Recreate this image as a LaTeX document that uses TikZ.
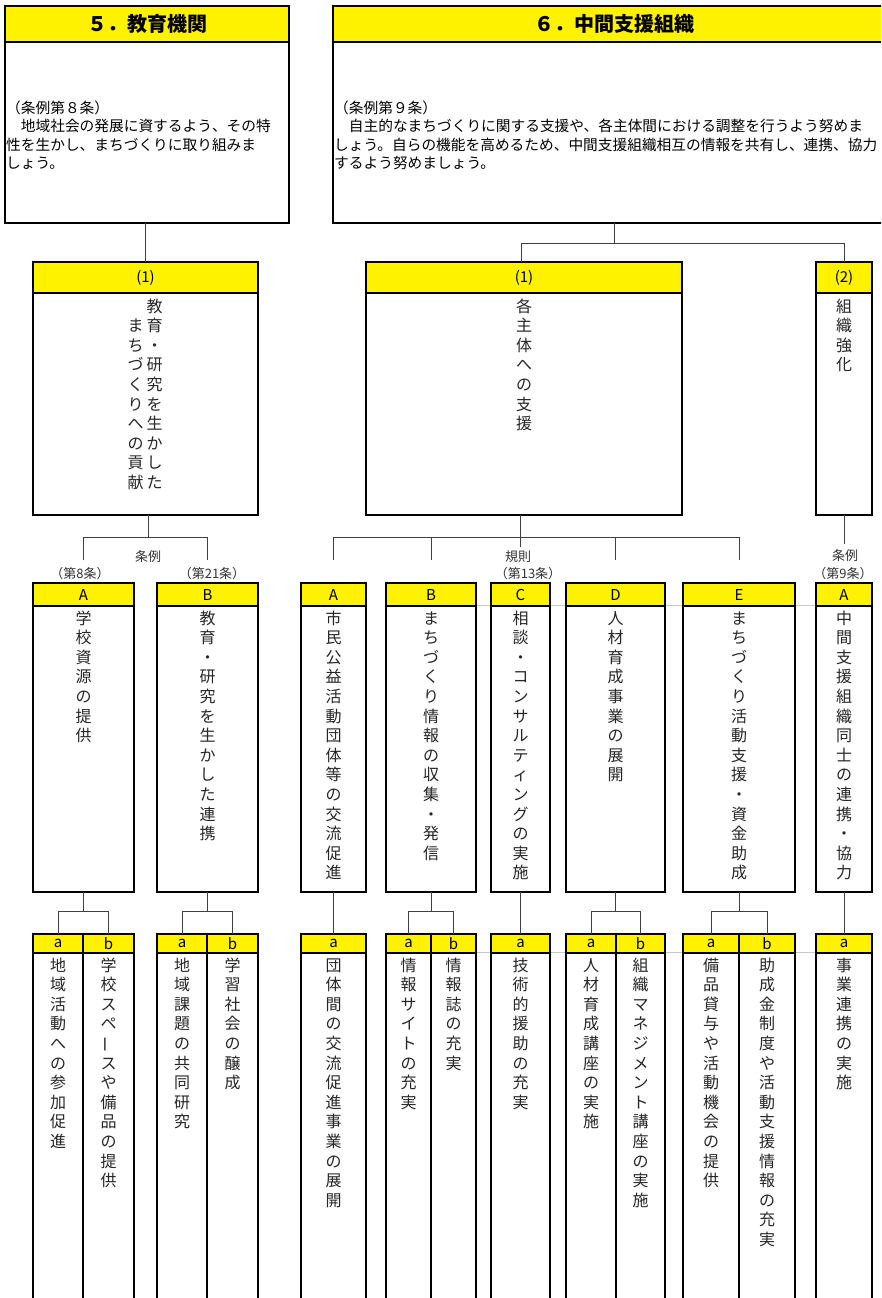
\documentclass[tikz,border=0pt]{standalone}
\usepackage{fontspec}
\setmainfont{Noto Sans CJK JP}
\usetikzlibrary{calc}

\def\vsend{\vsend}
\def\vsloop#1{\ifx#1\vsend\else\hbox to 16pt{\hss#1\hss}\expandafter\vsloop\fi}
\newcommand\vstack[1]{\vtop{\baselineskip=19.6pt\lineskiplimit=-100pt\lineskip=0pt\vsloop#1\vsend}}
\newcommand\vbarch{\raisebox{0.12em}{\rotatebox[origin=c]{90}{ー}}}

\tikzset{
  bx/.style={draw=black, line width=1.3pt, fill=white, inner sep=0pt, outer sep=0pt, anchor=north west},
  hd/.style={bx, fill=yellow, font=\fontsize{15}{18}\selectfont},
  conn/.style={draw=black!75, line width=1pt},
  vt/.style={inner sep=0pt, anchor=base, font=\fontsize{16}{19.6}\selectfont, text=black!85},
  lab/.style={inner sep=0pt, font=\fontsize{13}{15}\selectfont, text=black!80},
  body/.style={inner sep=0pt, anchor=base west, font=\fontsize{14.7}{18.4}\selectfont},
  faint/.style={draw=black!22, line width=0.7pt},
}

% name x1 x2 ytop yheaderbottom ybottom label
\newcommand\boxx[7]{%
  \node[bx, minimum width={#3-#2}, minimum height={#6-#4}] (#1) at (#2,#4) {};
  \node[hd, minimum width={#3-#2}, minimum height={#5-#4}] (#1h) at (#2,#4) {#7};
}

\begin{document}
\begin{tikzpicture}[x=1pt,y=-1pt]
\useasboundingbox (0,0) rectangle (881,1298);
\fill[white] (0,0) rectangle (881,1298);
\clip (0,0) rectangle (881,1298);

% faint guide lines
\draw[faint] (476,605.5) -- (816,605.5);
\draw[faint] (476,952.5) -- (816,952.5);

% top boxes
\boxx{T5}{5}{289}{6}{42}{223}{\fontsize{20}{24}\selectfont\bfseries ５．教育機関}
\boxx{T6}{333}{895}{6}{42}{223}{\fontsize{20}{24}\selectfont\bfseries ６．中間支援組織}

\node[body] (t5) at (6,113.5) {\vtop{\baselineskip=18.4pt
  \hbox{（条例第８条）}
  \hbox{　地域社会の発展に資するよう、その特}
  \hbox{性を生かし、まちづくりに取り組みま}
  \hbox{しょう。}}};
\node[body] (t6) at (334,113.5) {\vtop{\baselineskip=18.4pt
  \hbox{（条例第９条）}
  \hbox{　自主的なまちづくりに関する支援や、各主体間における調整を行うよう努めま}
  \hbox{しょう。自らの機能を高めるため、中間支援組織相互の情報を共有し、連携、協力}
  \hbox{するよう努めましょう。}}};

% level 2
\boxx{L1}{33}{258}{262}{293}{515}{(1)}
\boxx{R1}{366}{682}{262}{293}{515}{(1)}
\boxx{R2}{816}{872}{262}{293}{515}{(2)}

\node[vt] (vL1a) at ($(L1h.south)+(9,19.1)$) {\vstack{教育・研究を生かした}};
\node[vt] (vL1b) at ($(L1h.south)+(-10,38.7)$) {\vstack{まちづくりへの貢献}};
\node[vt] (vR1) at ($(R1h.south)+(0,19.1)$) {\vstack{各主体への支援}};
\node[vt] (vR2) at ($(R2h.south)+(0,19.1)$) {\vstack{組織強化}};

% level 3
\boxx{P5A}{33}{134}{583}{606}{892}{A}
\boxx{P5B}{157}{258}{583}{606}{892}{B}
\boxx{P6A}{301}{366}{583}{606}{892}{A}
\boxx{P6B}{386}{476}{583}{606}{892}{B}
\boxx{P6C}{491}{550}{583}{606}{892}{C}
\boxx{P6D}{566}{665}{583}{606}{892}{D}
\boxx{P6E}{683}{795}{583}{606}{892}{E}
\boxx{P6F}{816}{872}{583}{606}{892}{A}

\node[vt] (v5A) at ($(P5Ah.south)+(0,18.1)$) {\vstack{学校資源の提供}};
\node[vt] (v5B) at ($(P5Bh.south)+(0,18.1)$) {\vstack{教育・研究を生かした連携}};
\node[vt] (v6A) at ($(P6Ah.south)+(0,18.1)$) {\vstack{市民公益活動団体等の交流促進}};
\node[vt] (v6B) at ($(P6Bh.south)+(0,18.1)$) {\vstack{まちづくり情報の収集・発信}};
\node[vt] (v6C) at ($(P6Ch.south)+(0,18.1)$) {\vstack{相談・コンサルティングの実施}};
\node[vt] (v6D) at ($(P6Dh.south)+(0,18.1)$) {\vstack{人材育成事業の展開}};
\node[vt] (v6E) at ($(P6Eh.south)+(0,18.1)$) {\vstack{まちづくり活動支援・資金助成}};
\node[vt] (v6F) at ($(P6Fh.south)+(0,18.1)$) {\vstack{中間支援組織同士の連携・協力}};

% level 4
\boxx{Q5Aa}{33}{83}{934}{953}{1310}{a}
\boxx{Q5Ab}{83}{134}{934}{953}{1310}{b}
\boxx{Q5Ba}{157}{207}{934}{953}{1310}{a}
\boxx{Q5Bb}{207}{258}{934}{953}{1310}{b}
\boxx{Q6Aa}{301}{366}{934}{953}{1310}{a}
\boxx{Q6Ba}{386}{431}{934}{953}{1310}{a}
\boxx{Q6Bb}{431}{476}{934}{953}{1310}{b}
\boxx{Q6Ca}{491}{550}{934}{953}{1310}{a}
\boxx{Q6Da}{566}{616}{934}{953}{1310}{a}
\boxx{Q6Db}{616}{665}{934}{953}{1310}{b}
\boxx{Q6Ea}{683}{739}{934}{953}{1310}{a}
\boxx{Q6Eb}{739}{795}{934}{953}{1310}{b}
\boxx{Q6Fa}{816}{872}{934}{953}{1310}{a}

\node[vt] (w5Aa) at ($(Q5Aah.south)+(0,18.1)$) {\vstack{地域活動への参加促進}};
\node[vt] (w5Ab) at ($(Q5Abh.south)+(0,18.1)$) {\vstack{学校スペ\vbarch スや備品の提供}};
\node[vt] (w5Ba) at ($(Q5Bah.south)+(0,18.1)$) {\vstack{地域課題の共同研究}};
\node[vt] (w5Bb) at ($(Q5Bbh.south)+(0,18.1)$) {\vstack{学習社会の醸成}};
\node[vt] (w6Aa) at ($(Q6Aah.south)+(0,18.1)$) {\vstack{団体間の交流促進事業の展開}};
\node[vt] (w6Ba) at ($(Q6Bah.south)+(0,18.1)$) {\vstack{情報サイトの充実}};
\node[vt] (w6Bb) at ($(Q6Bbh.south)+(0,18.1)$) {\vstack{情報誌の充実}};
\node[vt] (w6Ca) at ($(Q6Cah.south)+(0,18.1)$) {\vstack{技術的援助の充実}};
\node[vt] (w6Da) at ($(Q6Dah.south)+(0,18.1)$) {\vstack{人材育成講座の実施}};
\node[vt] (w6Db) at ($(Q6Dbh.south)+(0,18.1)$) {\vstack{組織マネジメント講座の実施}};
\node[vt] (w6Ea) at ($(Q6Eah.south)+(0,18.1)$) {\vstack{備品貸与や活動機会の提供}};
\node[vt] (w6Eb) at ($(Q6Ebh.south)+(0,18.1)$) {\vstack{助成金制度や活動支援情報の充実}};
\node[vt] (w6Fa) at ($(Q6Fah.south)+(0,18.1)$) {\vstack{事業連携の実施}};

% labels
\node[lab] (k1) at (148,557) {条例};
\node[lab] (k2) at (80,574) {（第8条）};
\node[lab] (k3) at (212,574) {（第21条）};
\node[lab] (k4) at (518,557) {規則};
\node[lab] (k5) at (528,574) {（第13条）};
\node[lab] (k6) at (845,556) {条例};
\node[lab] (k7) at (843,574) {（第9条）};

% connectors level 1 -> 2
\draw[conn] (L1h.north) -- (L1h.north |- T5.south);
\draw[conn] ($(R1h.north)+(-3,0)$) -- ++(0,-19) -| (R2h.north);
\draw[conn] (T6.south) -- ++(0,20);

% level 2 -> 3
\draw[conn] ($(L1.south)+(3,0)$) -- ++(0,22);
\draw[conn] ($(P5Ah.north)+(0,-23)$) |- ($(P5Bh.north)+(0,-46)$) -- ++(0,23);
\draw[conn] ($(R1.south)+(-3.5,0)$) -- ++(0,32);
\draw[conn] ($(P6Ah.north)+(0,-23)$) |- ($(P6Eh.north)+(0,-46)$) -- ++(0,23);
\draw[conn] ($(P6Bh.north)+(0,-23)$) -- ++(0,-23);
\draw[conn] ($(P6Dh.north)+(0,-23)$) -- ++(0,-23);
\draw[conn] (R2.south) -- ++(0,29);

% level 3 -> 4
\draw[conn] (P5A.south) -- ++(0,19);
\draw[conn] (Q5Aah.north) |- ($(Q5Abh.north)+(0,-23)$) -- (Q5Abh.north);
\draw[conn] (P5B.south) -- ++(0,19);
\draw[conn] (Q5Bah.north) |- ($(Q5Bbh.north)+(0,-23)$) -- (Q5Bbh.north);
\draw[conn] (P6A.south) -- (Q6Aah.north);
\draw[conn] (P6B.south) -- ++(0,19);
\draw[conn] (Q6Bah.north) |- ($(Q6Bbh.north)+(0,-23)$) -- (Q6Bbh.north);
\draw[conn] (P6C.south) -- (Q6Cah.north);
\draw[conn] (P6D.south) -- ++(0,19);
\draw[conn] (Q6Dah.north) |- ($(Q6Dbh.north)+(0,-23)$) -- (Q6Dbh.north);
\draw[conn] (P6E.south) -- ++(0,19);
\draw[conn] (Q6Eah.north) |- ($(Q6Ebh.north)+(0,-23)$) -- (Q6Ebh.north);
\draw[conn] (P6F.south) -- (Q6Fah.north);
\end{tikzpicture}
\end{document}
